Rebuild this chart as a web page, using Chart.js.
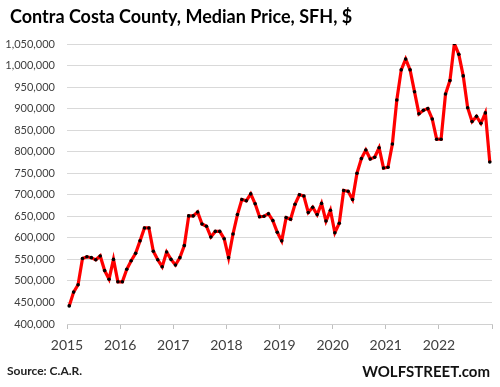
<!DOCTYPE html>
<html>
<head>
<meta charset="utf-8">
<script src="https://cdn.jsdelivr.net/npm/chart.js@4"></script>
<style>
  html, body { margin: 0; padding: 0; background: #fff; }
  #wrap { width: 500px; height: 387px; position: relative; }
</style>
</head>
<body>
<div id="wrap"><canvas id="chart"></canvas></div>
<script>
const TITLE = 'Contra Costa County, Median Price, SFH, $';
const SOURCE = 'Source: C.A.R.';
const BRAND = 'WOLFSTREET.com';

const YEAR_LABELS = ['2015', '2016', '2017', '2018', '2019', '2020', '2021', '2022'];

// monthly median price, Jan 2015 .. Dec 2022
const PRICES = [
  442000, 474000, 491000, 552000, 556000, 554000, 549000, 558000, 524000, 504000, 550000, 498000,
  498000, 527000, 547000, 564000, 593000, 623000, 623000, 569000, 549000, 533000, 567000, 550000,
  537000, 554000, 582000, 651000, 651000, 660000, 632000, 627000, 602000, 615000, 615000, 598000,
  554000, 609000, 654000, 689000, 686000, 702000, 679000, 649000, 650000, 656000, 640000, 613000,
  593000, 647000, 643000, 678000, 700000, 697000, 659000, 671000, 654000, 680000, 639000, 664000,
  612000, 634000, 710000, 708000, 689000, 750000, 784000, 804000, 783000, 787000, 809000, 762000,
  764000, 818000, 920000, 990000, 1015000, 990000, 939000, 888000, 896000, 900000, 876000, 829000,
  829000, 934000, 965000, 1051000, 1026000, 976000, 902000, 870000, 882000, 866000, 890000, 776000,
];

const Y_MIN = 400000;
const Y_MAX = 1050000;
const Y_STEP = 50000;

const textPlugin = {
  id: 'texts',
  afterDraw(chart) {
    const c = chart.ctx;
    c.save();
    c.fillStyle = '#000';
    c.textBaseline = 'alphabetic';
    c.textAlign = 'left';
    c.font = 'bold 18px Lato';
    c.fillText(TITLE, 10, 23);
    c.font = 'bold 12px Lato';
    c.fillStyle = '#222';
    c.fillText(SOURCE, 7, 375);
    c.textAlign = 'right';
    c.font = 'bold 15px Lato';
    c.fillStyle = '#111';
    c.fillText(BRAND, 490, 377);
    c.restore();
  },
};

new Chart(document.getElementById('chart'), {
  type: 'line',
  data: {
    datasets: [{
      data: PRICES.map((v, i) => ({ x: i, y: v })),
      borderColor: '#ff0000',
      borderWidth: 3.2,
      tension: 0,
      pointRadius: 1.8,
      pointBackgroundColor: '#000',
      pointBorderWidth: 0,
    }],
  },
  options: {
    responsive: true,
    maintainAspectRatio: false,
    animation: false,
    layout: { padding: { top: 44, right: 1, left: 0, bottom: 0 } },
    plugins: {
      legend: { display: false },
      tooltip: { enabled: false },
    },
    scales: {
      x: {
        type: 'linear',
        min: -0.5,
        max: 95.5,
        afterBuildTicks: (scale) => {
          scale.ticks = [];
          for (let k = 0; k <= 8; k++) scale.ticks.push({ value: -0.5 + 12 * k });
        },
        afterFit: (scale) => { scale.height = 63; },
        ticks: {
          autoSkip: false,
          maxRotation: 0,
          padding: 8,
          color: '#404040',
          font: { family: 'Lato', size: 14 },
          callback: (v, idx) => YEAR_LABELS[idx] || '',
        },
        grid: { drawOnChartArea: false, drawTicks: true, tickLength: 5, color: '#bfbfbf' },
        border: { display: true, color: '#d0d0d0' },
      },
      y: {
        min: Y_MIN,
        max: Y_MAX,
        afterFit: (scale) => { scale.width = 67; },
        ticks: {
          stepSize: Y_STEP,
          padding: 12,
          color: '#404040',
          font: { family: 'Lato', size: 11 },
          callback: (v) => v.toLocaleString('en-US'),
        },
        grid: { color: '#d9d9d9', drawTicks: false },
        border: { display: false },
      },
    },
  },
  plugins: [textPlugin],
});
</script>
</body>
</html>
